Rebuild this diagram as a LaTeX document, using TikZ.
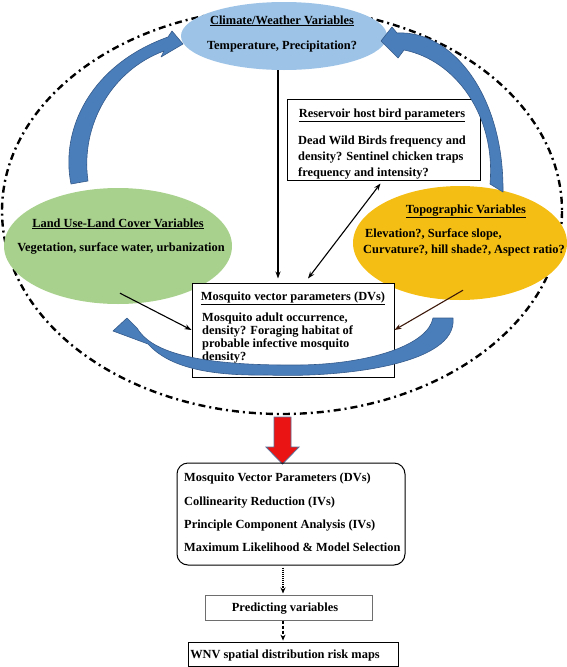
\documentclass[tikz,border=0pt]{standalone}
\usepackage{fontspec}
\setmainfont{Liberation Serif}
\usetikzlibrary{shapes.geometric,arrows.meta,calc}
\definecolor{cblue}{RGB}{157,195,230}
\definecolor{cgreen}{RGB}{169,209,142}
\definecolor{cgold}{RGB}{245,190,20}
\definecolor{abl}{RGB}{74,126,187}
\definecolor{abd}{RGB}{52,90,138}
\definecolor{redarr}{RGB}{235,20,20}
\begin{document}
\begin{tikzpicture}[x=1pt,y=-1pt,
  font=\bfseries\fontsize{12.4}{14}\selectfont,
  ell/.style={ellipse, inner sep=0pt},
  tl/.style={inner sep=0pt, anchor=base west},
  tc/.style={inner sep=0pt, anchor=base},
  boxx/.style={draw, line width=1pt, inner sep=0pt, fill=white},
  blk/.style={line width=1.1pt, -{Stealth[length=7pt,width=5pt]}},
  fat/.style={fill=abl, draw=abd, line width=0.6pt, line join=round},
  dashdotline/.style={line width=2.4pt, dash pattern=on 7pt off 4pt on 2pt off 4pt}]
\useasboundingbox (0,0) rectangle (567,667);

% outer dash-dot ellipse
\draw[dashdotline] (282,211) ellipse [x radius=280, y radius=203];

% ellipses
\node[ell, fill=cblue, minimum width=206pt, minimum height=68pt] (clim) at (284,36) {};
\node[ell, fill=cgreen, minimum width=228pt, minimum height=116pt] (land) at (118,246) {};
\node[ell, fill=cgold, minimum width=214pt, minimum height=114pt] (topo) at (460,243) {};

\node[tc] (climT) at (282,24) {\underline{Climate/Weather Variables}};
\node[tc] (climB) at (282,49) {Temperature, Precipitation?};

\node[tc] (landT) at (118,227) {\underline{Land Use-Land Cover Variables}};
\node[tc] (landB) at (121,251) {Vegetation, surface water, urbanization};

\node[tc] (topoT) at (466,213) {\underline{Topographic Variables}};
\node[tl] (topoB1) at (365,237) {Elevation?, Surface slope,};
\node[tl] (topoB2) at (363,253) {Curvature?, hill shade?, Aspect ratio?};

% reservoir box
\node[boxx, minimum width=193pt, minimum height=81pt] (res) at (383.5,139.5) {};
\node[tc] (resT) at (382,117) {\underline{Reservoir host bird parameters}};
\node[tl] (resB1) at (298,144) {Dead Wild Birds frequency and};
\node[tl] (resB2) at (298,160) {density? Sentinel chicken traps};
\node[tl] (resB3) at (298,176) {frequency and intensity?};

% mosquito box
\node[boxx, minimum width=202pt, minimum height=94pt] (mos) at (293,330) {};
\node[tc] (mosT) at (293,300) {\underline{Mosquito vector parameters (DVs)}};
\node[tl] (mosB1) at (202,321) {Mosquito adult occurrence,};
\node[tl] (mosB2) at (202,334) {density? Foraging habitat of};
\node[tl] (mosB3) at (202,347) {probable infective mosquito};
\node[tl] (mosB4) at (202,360) {density?};

% black connectors
\draw[blk] ($(clim.south)+(-6,0)$) -- ($(mos.north)+(-15,-4)$);
\draw[line width=1.1pt, {Stealth[length=7pt,width=5pt]}-{Stealth[length=7pt,width=5pt]}] ($(res.south)+(-3,3)$) -- ($(mos.north)+(15,-4)$);
\draw[blk] ($(land.south)+(2,-11)$) -- (mos.west);
\draw[blk, draw={rgb,255:red,60;green,25;blue,10}] ($(topo.south)+(3,-10)$) -- (mos.east);

% fat blue curved arrows
\path[fat] (71,184) .. controls (60,130) and (90,65) .. (168,37)
  -- (172,31) -- (183,44) -- (161,57) -- (164,51)
  .. controls (112,70) and (80,125) .. (88,181) -- cycle;
\path[fat] (397,33) .. controls (452,30) and (504,95) .. (503,192)
  -- (490,184) .. controls (496,115) and (455,60) .. (404,50)
  -- (398,58) -- (381,41) -- (392,27) -- cycle;
\path[fat] (453,318) .. controls (458,365) and (340,378) .. (267,375)
  .. controls (205,376) and (168,366) .. (148,344)
  -- (113,331) -- (127,318) -- (137,328)
  .. controls (150,350) and (190,366) .. (300,365)
  .. controls (370,364) and (428,345) .. (433,318) -- cycle;

% red arrow
\path[fill=redarr, draw={rgb,255:red,90;green,110;blue,150}, line width=0.8pt]
  (274,417) -- (291,417) -- (291,447) -- (299,447) -- (282.5,464)
  -- (266,447) -- (274,447) -- cycle;

% lower boxes
\node[draw, line width=1pt, rounded corners=11pt, minimum width=228pt, minimum height=102pt, inner sep=0pt] (proc) at (291,514) {};
\node[tl] (p1) at (184,481) {Mosquito Vector Parameters (DVs)};
\node[tl] (p2) at (184,505) {Collinearity Reduction (IVs)};
\node[tl] (p3) at (184,528) {Principle Component Analysis (IVs)};
\node[tl] (p4) at (184,551) {Maximum Likelihood \& Model Selection};

\node[draw={rgb,255:red,110;green,110;blue,110}, line width=1pt, minimum width=167pt, minimum height=25pt, inner sep=0pt] (pred) at (288.5,607.5) {};
\node[tc] (predT) at (285,611) {Predicting variables};

\node[draw, line width=0.8pt, minimum width=210pt, minimum height=24pt, inner sep=0pt] (wnv) at (293,654) {};
\node[tc] (wnvT) at (285,658) {WNV spatial distribution risk maps};

\draw[line width=1.1pt, densely dotted, -{Stealth[length=6pt,width=5pt]}] ($(proc.south)+(-8,2)$) -- ($(pred.north)+(-5.5,-1)$);
\draw[line width=1.1pt, densely dashed, -{Stealth[length=6pt,width=5pt]}] ($(pred.south)+(-5.5,0)$) -- ($(wnv.north)+(-10,-1)$);
\end{tikzpicture}
\end{document}
